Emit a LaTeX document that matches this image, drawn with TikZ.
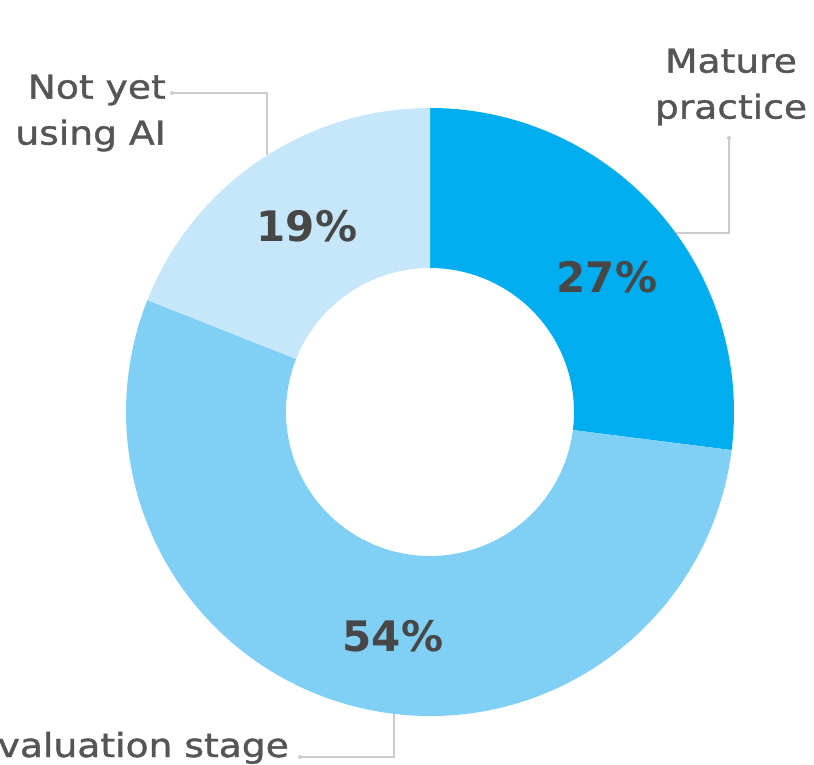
\documentclass[tikz,border=0pt]{standalone}
\usepackage{fontspec}
\setmainfont{DejaVu Sans}
\newfontfamily\lblfont[FakeStretch=1.14, FakeBold=1.2]{DejaVu Sans}
\newfontfamily\pctfont{DejaVu Sans}
\definecolor{segA}{HTML}{00AEEF}
\definecolor{segB}{HTML}{80D0F6}
\definecolor{segC}{HTML}{C6E7FA}
\definecolor{labelgray}{HTML}{555555}
\definecolor{numgray}{HTML}{474747}
\definecolor{leadgray}{HTML}{CCCCCC}
\tikzset{
  lbl/.style={text=labelgray, inner sep=0pt, font=\lblfont\fontsize{33}{46}\selectfont},
  pct/.style={text=numgray, inner sep=0pt, font=\pctfont\fontsize{42}{50}\selectfont\bfseries},
  leader/.style={draw=leadgray, line width=1.6pt},
  leaddot/.style={circle, fill=leadgray, inner sep=0pt, minimum size=4pt},
}
\begin{document}
\begin{tikzpicture}[x=1pt,y=1pt]
\useasboundingbox (0,0) rectangle (814,764);
\def\R{304}\def\r{144}
\begin{scope}[shift={(430,352)}]
\fill[segA] (90:\R) arc[start angle=90,end angle=-7.2,radius=\R] -- (-7.2:\r) arc[start angle=-7.2,end angle=90,radius=\r] -- cycle;
\fill[segB] (-7.2:\R) arc[start angle=-7.2,end angle=-201.6,radius=\R] -- (158.4:\r) arc[start angle=158.4,end angle=352.8,radius=\r] -- cycle;
\fill[segC] (158.4:\R) arc[start angle=158.4,end angle=90,radius=\R] -- (90:\r) arc[start angle=90,end angle=158.4,radius=\r] -- cycle;
\end{scope}
% percentages
\node[pct] (p19) at (307,538) {19\%};
\node[pct] (p27) at (607,487) {27\%};
\node[pct] (p54) at (393,128) {54\%};
% labels
\node[lbl, align=center] (mature) at (731,677) {Mature\\practice};
\node[lbl, align=right, anchor=east] (notyet) at (166,651) {Not yet\\using AI};
\node[lbl, anchor=base east] (eval) at (289,7) {Evaluation stage};
% leaders
\coordinate (m1) at (729,626);
\coordinate (m2) at (729,531);
\coordinate (m3) at (676,531);
\coordinate (n1) at (172,671);
\coordinate (n2) at (267,671);
\coordinate (n3) at (267,609);
\coordinate (e1) at (300,7);
\coordinate (e2) at (394,7);
\coordinate (e3) at (394,50);
\draw[leader] (m1) -- (m2) -- (m3);
\draw[leader] (n1) -- (n2) -- (n3);
\draw[leader] (e1) -- (e2) -- (e3);
\node[leaddot] at (m1) {};
\node[leaddot] at (n1) {};
\node[leaddot] at (e1) {};
\end{tikzpicture}
\end{document}
